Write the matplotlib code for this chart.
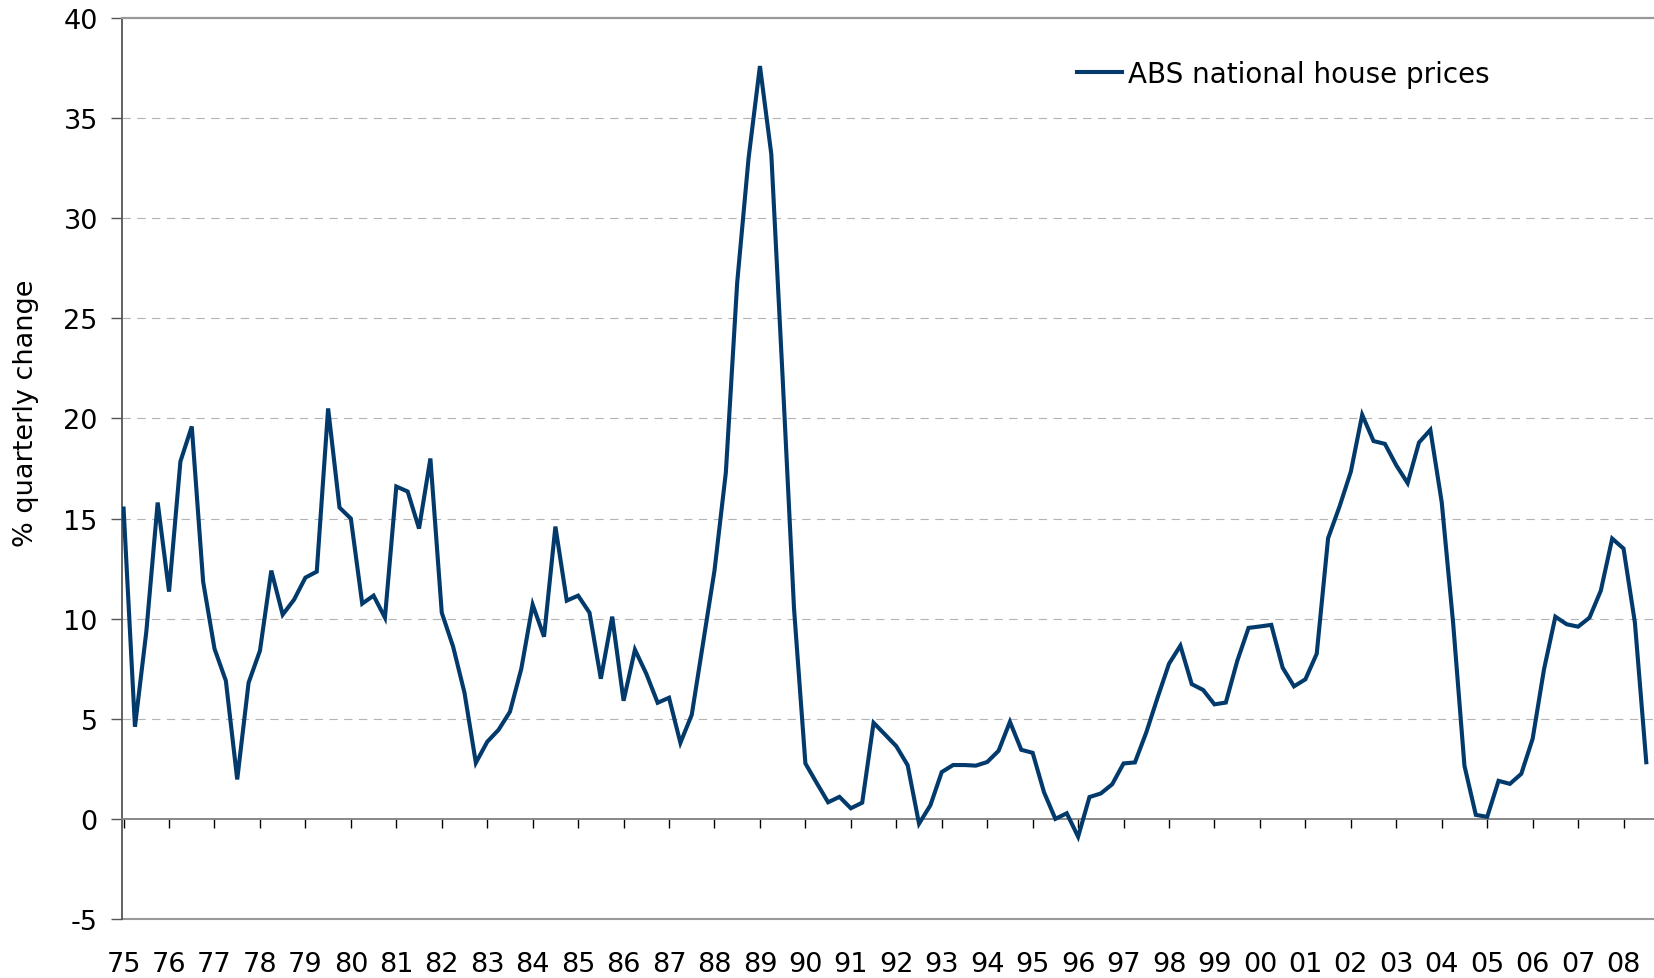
import numpy as np
import matplotlib
matplotlib.use("Agg")
import matplotlib.pyplot as plt

plt.rcParams['font.family'] = ['DejaVu Sans']
plt.rcParams['font.size'] = 19.5
plt.rcParams['axes.unicode_minus'] = False

# ---- data -------------------------------------------------------------
start_year = 1975
series_label = "ABS national house prices"
y_label = "% quarterly change"

# quarterly % change, starting 1975 (one value per quarter)
house_prices = [
    15.5, 4.6, 9.35, 15.8, 11.35, 17.85, 19.6, 11.85, 8.5, 6.9,
    1.97, 6.8, 8.4, 12.4, 10.2, 10.95, 12.05, 12.35, 20.5, 15.55,
    15.0, 10.75, 11.15, 10.05, 16.6, 16.35, 14.5, 18.0, 10.3, 8.6,
    6.3, 2.8, 3.85, 4.45, 5.35, 7.5, 10.7, 9.1, 14.6, 10.9,
    11.15, 10.3, 7.0, 10.1, 5.9, 8.45, 7.25, 5.8, 6.05, 3.8,
    5.2, 8.8, 12.4, 17.3, 26.8, 33.0, 37.6, 33.2, 22.0, 10.5,
    2.77, 1.79, 0.83, 1.1, 0.53, 0.81, 4.8, 4.22, 3.63, 2.68,
    -0.24, 0.68, 2.34, 2.69, 2.69, 2.66, 2.84, 3.4, 4.85, 3.45,
    3.3, 1.33, 0.0, 0.28, -0.89, 1.09, 1.27, 1.73, 2.77, 2.82,
    4.32, 6.07, 7.75, 8.65, 6.73, 6.44, 5.72, 5.81, 7.88, 9.54,
    9.61, 9.69, 7.55, 6.62, 6.97, 8.25, 14.02, 15.59, 17.34, 20.18,
    18.87, 18.73, 17.66, 16.77, 18.8, 19.43, 15.81, 9.8, 2.65, 0.2,
    0.1, 1.9, 1.75, 2.25, 4.0, 7.47, 10.1, 9.72, 9.6, 10.05,
    11.4, 14.0, 13.5, 9.8, 2.83,
]

year_ticks = list(range(1975, 2009))
year_labels = [f"{y % 100:02d}" for y in year_ticks]
y_ticks = [-5, 0, 5, 10, 15, 20, 25, 30, 35, 40]
grid_levels = [5, 10, 15, 20, 25, 30, 35]

# ---- figure -----------------------------------------------------------
W, H = 1654, 979
fig = plt.figure(figsize=(W / 100, H / 100), dpi=100)
ax = fig.add_axes([122 / W, 59 / H, 1 - 122 / W, 901 / H])

x = start_year + np.arange(len(house_prices)) / 4.0
line_color = '#033a6c'
ax.plot(x, house_prices, color=line_color, lw=2.95, label=series_label,
        solid_joinstyle='miter', zorder=5)

ax.set_xlim(start_year - 0.035, 2008.67)
ax.set_ylim(-5, 40)

# dashed horizontal gridlines
for g in grid_levels:
    ax.axhline(g, color='#b3b3b3', lw=0.8, ls=(0, (7.5, 5.8)), zorder=1)

# y axis
ax.set_yticks(y_ticks)
ax.tick_params(axis='y', direction='out', length=8, width=1.0,
               color='#555555', pad=9.4, labelcolor='black')

# x axis: ticks sit on the zero line, labels below the box
ax.spines['bottom'].set_position(('data', 0))
ax.spines['bottom'].set_color('#7f7f7f')
ax.spines['bottom'].set_linewidth(1.3)
ax.set_xticks(year_ticks)
ax.tick_params(axis='x', direction='out', length=6.7, width=1.0,
               color='black', labelbottom=False)

sec = ax.secondary_xaxis('bottom')
sec.set_xticks(year_ticks, year_labels)
sec.tick_params(axis='x', length=0, pad=23)
sec.spines['bottom'].set_color('#999999')
sec.spines['bottom'].set_linewidth(1.5)

ax.spines['left'].set_color('#555555')
ax.spines['left'].set_linewidth(1.3)
ax.spines['top'].set_color('#999999')
ax.spines['top'].set_linewidth(1.6)
ax.spines['right'].set_visible(False)

ax.set_ylabel(y_label)
ax.yaxis.set_label_coords(-0.0542, 0.562)

leg = ax.legend(loc='center left', bbox_to_anchor=(1077 / W, 1 - 75 / H),
                bbox_transform=fig.transFigure, frameon=False,
                borderpad=0, borderaxespad=0, handlelength=1.62,
                handletextpad=0.2, fontsize=20)

fig.savefig('out.png', dpi=100)
